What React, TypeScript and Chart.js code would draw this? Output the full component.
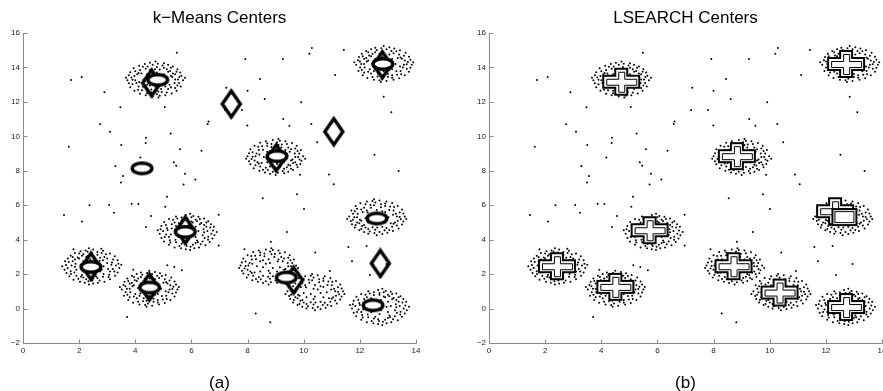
import React, { useEffect, useRef } from "react";
import { Chart, registerables } from "chart.js";
Chart.register(...registerables);

const xTicks = [0, 2, 4, 6, 8, 10, 12, 14];
const yTicks = [-2, 0, 2, 4, 6, 8, 10, 12, 14, 16];
const titles = ["k\u2212Means Centers", "LSEARCH Centers"];
const captions = ["(a)", "(b)"];

type P = [number, number];

const outliers: P[] = [
  [5.48,14.86],[1.71,13.27],[2.09,13.45],[2.90,12.56],[3.47,11.69],[5.05,11.70],[6.61,10.86],[6.58,10.71],[2.75,10.70],[3.10,10.27],
  [5.26,10.16],[4.38,9.92],[4.37,9.62],[1.63,9.40],[3.50,9.49],[5.59,9.25],[6.36,9.17],[4.18,8.77],[3.29,8.28],[5.37,8.49],
  [5.46,8.29],[3.56,7.70],[5.77,7.83],[6.14,7.50],[3.49,7.32],[5.72,7.20],[5.13,6.49],[8.54,6.41],[9.76,6.64],
  [10.29,15.13],[10.20,14.80],[11.43,15.02],[7.92,14.49],[9.26,14.49],[8.44,13.33],[11.12,13.56],[7.24,12.82],[8.00,12.64],[8.61,12.17],
  [9.91,11.98],[12.85,12.30],[13.12,11.40],[7.80,11.53],[7.20,11.53],[9.27,11.00],[9.49,10.62],[10.27,10.71],[7.99,10.63],[10.48,9.65],
  [12.52,8.93],[13.38,7.99],[10.90,7.78],[11.07,7.22],[9.87,7.77],
  [2.37,6.00],[3.07,6.01],[3.87,6.09],[4.11,6.07],[5.07,5.91],[3.24,5.56],[1.46,5.43],[4.56,5.38],[6.97,5.44],[2.10,5.06],
  [4.38,4.73],[6.97,3.66],[1.80,3.45],[2.79,3.47],[3.93,2.25],[5.14,2.51],[5.39,2.41],[5.66,2.23],[3.71,-0.49],
  [10.01,5.78],[9.40,4.45],[8.83,3.88],[7.89,3.45],[10.41,3.25],[11.59,3.58],[12.24,3.63],[11.72,2.75],[10.93,2.18],[12.36,1.95],
  [12.95,2.58],[8.29,-0.29],[8.81,-0.79],
];

const cluster1: P[] = [
  [4.87,13.40],[4.52,13.35],[4.77,13.10],[4.62,13.15],[4.72,13.55],[5.12,13.35],[5.02,13.60],[4.77,13.70],[4.42,13.60],[4.30,13.30],
  [4.42,13.00],[4.72,12.88],[5.04,13.02],[5.27,13.50],[5.17,13.75],[4.87,13.88],[4.52,13.85],[4.22,13.65],[4.14,13.15],[4.27,12.88],
  [4.57,12.72],[4.92,12.75],[5.22,13.00],[5.42,13.30],[5.34,13.65],[5.12,13.90],[4.77,14.02],[4.37,13.92],[4.07,13.60],[4.00,13.25],
  [4.12,12.90],[4.42,12.65],[4.82,12.60],[5.17,12.75],[5.40,13.10],[5.57,13.45],[5.47,13.75],[5.27,13.98],[4.97,14.12],[4.62,14.16],
  [4.27,14.04],[4.00,13.78],[3.86,13.42],[3.90,13.02],[4.10,12.70],[4.42,12.50],[4.77,12.44],[5.12,12.54],[5.42,12.80],[5.56,13.10],
  [5.70,13.25],[5.60,13.70],[5.34,14.05],[5.02,14.25],[4.52,14.27],[4.14,14.10],[3.82,13.72],[3.72,13.25],[3.82,12.85],[4.17,12.47],
  [4.62,12.32],[5.07,12.38],[5.47,12.65],
  [5.32,13.45],[5.24,13.80],[5.02,13.98],[4.70,13.90],[4.44,14.05],[4.17,13.85],[3.97,13.50],[4.04,13.10],[4.24,12.68],[4.57,12.55],
  [4.94,12.58],[5.27,12.85],[5.50,12.95],[5.64,13.52],[5.50,13.90],[5.17,14.15],[4.80,14.22],[4.34,14.20],[3.94,13.95],[3.77,13.55],
  [3.77,13.08],[3.97,12.65],[4.37,12.38],[4.87,12.35],[5.30,12.48],[5.62,12.90],[5.77,13.40],[3.67,13.40],[4.72,14.35],[4.82,12.25],
  [5.52,13.30],[3.90,13.28],[5.07,12.90],[4.52,12.95],[5.42,13.60],[4.12,13.68],
];
const cluster2: P[] = [
  [12.70,14.30],[13.05,14.25],[12.80,14.00],[12.95,14.05],[12.85,14.45],[12.45,14.25],[12.55,14.50],[12.80,14.60],[13.15,14.50],[13.27,14.20],
  [13.15,13.90],[12.85,13.78],[12.53,13.92],[12.30,14.40],[12.40,14.65],[12.70,14.78],[13.05,14.75],[13.35,14.55],[13.43,14.05],[13.30,13.78],
  [13.00,13.62],[12.65,13.65],[12.35,13.90],[12.15,14.20],[12.23,14.55],[12.45,14.80],[12.80,14.92],[13.20,14.82],[13.50,14.50],[13.57,14.15],
  [13.45,13.80],[13.15,13.55],[12.75,13.50],[12.40,13.65],[12.17,14.00],[12.00,14.35],[12.10,14.65],[12.30,14.88],[12.60,15.02],[12.95,15.06],
  [13.30,14.94],[13.57,14.68],[13.71,14.32],[13.67,13.92],[13.47,13.60],[13.15,13.40],[12.80,13.34],[12.45,13.44],[12.15,13.70],[12.01,14.00],
  [11.87,14.15],[11.97,14.60],[12.23,14.95],[12.55,15.15],[13.05,15.17],[13.43,15.00],[13.75,14.62],[13.85,14.15],[13.75,13.75],[13.40,13.37],
  [12.95,13.22],[12.50,13.28],[12.10,13.55],
  [12.25,14.35],[12.33,14.70],[12.55,14.88],[12.87,14.80],[13.13,14.95],[13.40,14.75],[13.60,14.40],[13.53,14.00],[13.33,13.58],[13.00,13.45],
  [12.63,13.48],[12.30,13.75],[12.07,13.85],[11.93,14.42],[12.07,14.80],[12.40,15.05],[12.77,15.12],[13.23,15.10],[13.63,14.85],[13.80,14.45],
  [13.80,13.98],[13.60,13.55],[13.20,13.28],[12.70,13.25],[12.27,13.38],[11.95,13.80],[11.80,14.30],[13.90,14.30],[12.85,15.25],[12.75,13.15],
  [12.05,14.20],[13.67,14.18],[12.50,13.80],[13.05,13.85],[12.15,14.50],[13.45,14.58],
];
const cluster3: P[] = [
  [9.15,8.70],[8.80,8.75],[9.05,9.00],[8.90,8.95],[9.00,8.55],[9.40,8.75],[9.30,8.50],[9.05,8.40],[8.70,8.50],[8.58,8.80],
  [8.70,9.10],[9.00,9.22],[9.32,9.08],[9.55,8.60],[9.45,8.35],[9.15,8.22],[8.80,8.25],[8.50,8.45],[8.42,8.95],[8.55,9.22],
  [8.85,9.38],[9.20,9.35],[9.50,9.10],[9.70,8.80],[9.62,8.45],[9.40,8.20],[9.05,8.08],[8.65,8.18],[8.35,8.50],[8.28,8.85],
  [8.40,9.20],[8.70,9.45],[9.10,9.50],[9.45,9.35],[9.68,9.00],[9.85,8.65],[9.75,8.35],[9.55,8.12],[9.25,7.98],[8.90,7.94],
  [8.55,8.06],[8.28,8.32],[8.14,8.68],[8.18,9.08],[8.38,9.40],[8.70,9.60],[9.05,9.66],[9.40,9.56],[9.70,9.30],[9.84,9.00],
  [9.98,8.85],[9.88,8.40],[9.62,8.05],[9.30,7.85],[8.80,7.83],[8.42,8.00],[8.10,8.38],[8.00,8.85],[8.10,9.25],[8.45,9.63],
  [8.90,9.78],[9.35,9.72],[9.75,9.45],
  [9.60,8.65],[9.52,8.30],[9.30,8.12],[8.98,8.20],[8.72,8.05],[8.45,8.25],[8.25,8.60],[8.32,9.00],[8.52,9.42],[8.85,9.55],
  [9.22,9.52],[9.55,9.25],[9.78,9.15],[9.92,8.58],[9.78,8.20],[9.45,7.95],[9.08,7.88],[8.62,7.90],[8.22,8.15],[8.05,8.55],
  [8.05,9.02],[8.25,9.45],[8.65,9.72],[9.15,9.75],[9.58,9.62],[9.90,9.20],[10.05,8.70],[7.95,8.70],[9.00,7.75],[9.10,9.85],
  [9.80,8.80],[8.18,8.82],[9.35,9.20],[8.80,9.15],[9.70,8.50],[8.40,8.42],
];
const cluster4: P[] = [
  [12.45,5.20],[12.80,5.25],[12.55,5.50],[12.70,5.45],[12.60,5.05],[12.20,5.25],[12.30,5.00],[12.55,4.90],[12.90,5.00],[13.02,5.30],
  [12.90,5.60],[12.60,5.72],[12.28,5.58],[12.05,5.10],[12.15,4.85],[12.45,4.72],[12.80,4.75],[13.10,4.95],[13.18,5.45],[13.05,5.72],
  [12.75,5.88],[12.40,5.85],[12.10,5.60],[11.90,5.30],[11.98,4.95],[12.20,4.70],[12.55,4.58],[12.95,4.68],[13.25,5.00],[13.32,5.35],
  [13.20,5.70],[12.90,5.95],[12.50,6.00],[12.15,5.85],[11.92,5.50],[11.75,5.15],[11.85,4.85],[12.05,4.62],[12.35,4.48],[12.70,4.44],
  [13.05,4.56],[13.32,4.82],[13.46,5.18],[13.42,5.58],[13.22,5.90],[12.90,6.10],[12.55,6.16],[12.20,6.06],[11.90,5.80],[11.76,5.50],
  [11.62,5.35],[11.72,4.90],[11.98,4.55],[12.30,4.35],[12.80,4.33],[13.18,4.50],[13.50,4.88],[13.60,5.35],[13.50,5.75],[13.15,6.13],
  [12.70,6.28],[12.25,6.22],[11.85,5.95],
  [12.00,5.15],[12.08,4.80],[12.30,4.62],[12.62,4.70],[12.88,4.55],[13.15,4.75],[13.35,5.10],[13.28,5.50],[13.08,5.92],[12.75,6.05],
  [12.38,6.02],[12.05,5.75],[11.82,5.65],[11.68,5.08],[11.82,4.70],[12.15,4.45],[12.52,4.38],[12.98,4.40],[13.38,4.65],[13.55,5.05],
  [13.55,5.52],[13.35,5.95],[12.95,6.22],[12.45,6.25],[12.02,6.12],[11.70,5.70],[11.55,5.20],[13.65,5.20],[12.60,4.25],[12.50,6.35],
  [11.80,5.30],[13.42,5.32],[12.25,5.70],[12.80,5.65],[11.90,5.00],[13.20,4.92],
];
const cluster5: P[] = [
  [5.95,4.60],[5.90,4.25],[5.65,4.50],[5.70,4.35],[6.10,4.45],[5.90,4.85],[6.15,4.75],[6.25,4.50],[6.15,4.15],[5.85,4.03],
  [5.55,4.15],[5.43,4.45],[5.57,4.77],[6.05,5.00],[6.30,4.90],[6.43,4.60],[6.40,4.25],[6.20,3.95],[5.70,3.87],[5.43,4.00],
  [5.27,4.30],[5.30,4.65],[5.55,4.95],[5.85,5.15],[6.20,5.07],[6.45,4.85],[6.57,4.50],[6.47,4.10],[6.15,3.80],[5.80,3.73],
  [5.45,3.85],[5.20,4.15],[5.15,4.55],[5.30,4.90],[5.65,5.13],[6.00,5.30],[6.30,5.20],[6.53,5.00],[6.67,4.70],[6.71,4.35],
  [6.59,4.00],[6.33,3.73],[5.97,3.59],[5.57,3.63],[5.25,3.83],[5.05,4.15],[4.99,4.50],[5.09,4.85],[5.35,5.15],[5.65,5.29],
  [5.80,5.43],[6.25,5.33],[6.60,5.07],[6.80,4.75],[6.82,4.25],[6.65,3.87],[6.27,3.55],[5.80,3.45],[5.40,3.55],[5.02,3.90],
  [4.87,4.35],[4.93,4.80],[5.20,5.20],
  [6.00,5.05],[6.35,4.97],[6.53,4.75],[6.45,4.43],[6.60,4.17],[6.40,3.90],[6.05,3.70],[5.65,3.77],[5.23,3.97],[5.10,4.30],
  [5.13,4.67],[5.40,5.00],[5.50,5.23],[6.07,5.37],[6.45,5.23],[6.70,4.90],[6.77,4.53],[6.75,4.07],[6.50,3.67],[6.10,3.50],
  [5.63,3.50],[5.20,3.70],[4.93,4.10],[4.90,4.60],[5.03,5.03],[5.45,5.35],[5.95,5.50],[5.95,3.40],[6.90,4.45],[4.80,4.55],
  [5.85,5.25],[5.83,3.63],[5.45,4.80],[5.50,4.25],[6.15,5.15],[6.23,3.85],
];
const cluster6: P[] = [
  [2.35,2.60],[2.40,2.25],[2.65,2.50],[2.60,2.35],[2.20,2.45],[2.40,2.85],[2.15,2.75],[2.05,2.50],[2.15,2.15],[2.45,2.03],
  [2.75,2.15],[2.87,2.45],[2.73,2.77],[2.25,3.00],[2.00,2.90],[1.87,2.60],[1.90,2.25],[2.10,1.95],[2.60,1.87],[2.87,2.00],
  [3.03,2.30],[3.00,2.65],[2.75,2.95],[2.45,3.15],[2.10,3.07],[1.85,2.85],[1.73,2.50],[1.83,2.10],[2.15,1.80],[2.50,1.73],
  [2.85,1.85],[3.10,2.15],[3.15,2.55],[3.00,2.90],[2.65,3.13],[2.30,3.30],[2.00,3.20],[1.77,3.00],[1.63,2.70],[1.59,2.35],
  [1.71,2.00],[1.97,1.73],[2.33,1.59],[2.73,1.63],[3.05,1.83],[3.25,2.15],[3.31,2.50],[3.21,2.85],[2.95,3.15],[2.65,3.29],
  [2.50,3.43],[2.05,3.33],[1.70,3.07],[1.50,2.75],[1.48,2.25],[1.65,1.87],[2.03,1.55],[2.50,1.45],[2.90,1.55],[3.28,1.90],
  [3.43,2.35],[3.37,2.80],[3.10,3.20],
  [2.30,3.05],[1.95,2.97],[1.77,2.75],[1.85,2.43],[1.70,2.17],[1.90,1.90],[2.25,1.70],[2.65,1.77],[3.07,1.97],[3.20,2.30],
  [3.17,2.67],[2.90,3.00],[2.80,3.23],[2.23,3.37],[1.85,3.23],[1.60,2.90],[1.53,2.53],[1.55,2.07],[1.80,1.67],[2.20,1.50],
  [2.67,1.50],[3.10,1.70],[3.37,2.10],[3.40,2.60],[3.27,3.03],[2.85,3.35],[2.35,3.50],[2.35,1.40],[1.40,2.45],[3.50,2.55],
  [2.45,3.25],[2.47,1.63],[2.85,2.80],[2.80,2.25],[2.15,3.15],[2.07,1.85],
];
const cluster7: P[] = [
  [4.35,1.25],[4.70,1.20],[4.45,0.95],[4.60,1.00],[4.50,1.40],[4.10,1.20],[4.20,1.45],[4.45,1.55],[4.80,1.45],[4.92,1.15],
  [4.80,0.85],[4.50,0.73],[4.18,0.87],[3.95,1.35],[4.05,1.60],[4.35,1.73],[4.70,1.70],[5.00,1.50],[5.08,1.00],[4.95,0.73],
  [4.65,0.57],[4.30,0.60],[4.00,0.85],[3.80,1.15],[3.88,1.50],[4.10,1.75],[4.45,1.87],[4.85,1.77],[5.15,1.45],[5.22,1.10],
  [5.10,0.75],[4.80,0.50],[4.40,0.45],[4.05,0.60],[3.82,0.95],[3.65,1.30],[3.75,1.60],[3.95,1.83],[4.25,1.97],[4.60,2.01],
  [4.95,1.89],[5.22,1.63],[5.36,1.27],[5.32,0.87],[5.12,0.55],[4.80,0.35],[4.45,0.29],[4.10,0.39],[3.80,0.65],[3.66,0.95],
  [3.52,1.10],[3.62,1.55],[3.88,1.90],[4.20,2.10],[4.70,2.12],[5.08,1.95],[5.40,1.57],[5.50,1.10],[5.40,0.70],[5.05,0.32],
  [4.60,0.17],[4.15,0.23],[3.75,0.50],
  [3.90,1.30],[3.98,1.65],[4.20,1.83],[4.52,1.75],[4.78,1.90],[5.05,1.70],[5.25,1.35],[5.18,0.95],[4.98,0.53],[4.65,0.40],
  [4.28,0.43],[3.95,0.70],[3.72,0.80],[3.58,1.37],[3.72,1.75],[4.05,2.00],[4.42,2.07],[4.88,2.05],[5.28,1.80],[5.45,1.40],
  [5.45,0.93],[5.25,0.50],[4.85,0.23],[4.35,0.20],[3.92,0.33],[3.60,0.75],[3.45,1.25],[5.55,1.25],[4.50,2.20],[4.40,0.10],
  [3.70,1.15],[5.32,1.13],[4.15,0.75],[4.70,0.80],[3.80,1.45],[5.10,1.53],
];
const cluster8: P[] = [
  [8.90,2.35],[8.55,2.40],[8.80,2.65],[8.65,2.60],[8.75,2.20],[9.15,2.40],[9.05,2.15],[8.80,2.05],[8.45,2.15],[8.33,2.45],
  [8.45,2.75],[8.75,2.87],[9.07,2.73],[9.30,2.25],[9.20,2.00],[8.90,1.87],[8.55,1.90],[8.25,2.10],[8.17,2.60],[8.30,2.87],
  [8.60,3.03],[8.95,3.00],[9.25,2.75],[9.45,2.45],[9.37,2.10],[9.15,1.85],[8.80,1.73],[8.40,1.83],[8.10,2.15],[8.03,2.50],
  [8.15,2.85],[8.45,3.10],[8.85,3.15],[9.20,3.00],[9.43,2.65],[9.60,2.30],[9.50,2.00],[9.30,1.77],[9.00,1.63],[8.65,1.59],
  [8.30,1.71],[8.03,1.97],[7.89,2.33],[7.93,2.73],[8.13,3.05],[8.45,3.25],[8.80,3.31],[9.15,3.21],[9.45,2.95],[9.59,2.65],
  [9.73,2.50],[9.63,2.05],[9.37,1.70],[9.05,1.50],[8.55,1.48],[8.17,1.65],[7.85,2.03],[7.75,2.50],[7.85,2.90],[8.20,3.28],
  [8.65,3.43],[9.10,3.37],[9.50,3.10],
  [9.35,2.30],[9.27,1.95],[9.05,1.77],[8.73,1.85],[8.47,1.70],[8.20,1.90],[8.00,2.25],[8.07,2.65],[8.27,3.07],[8.60,3.20],
  [8.97,3.17],[9.30,2.90],[9.53,2.80],[9.67,2.23],[9.53,1.85],[9.20,1.60],[8.83,1.53],[8.37,1.55],[7.97,1.80],[7.80,2.20],
  [7.80,2.67],[8.00,3.10],[8.40,3.37],[8.90,3.40],[9.33,3.27],[9.65,2.85],[9.80,2.35],[7.70,2.35],[8.75,1.40],[8.85,3.50],
  [9.55,2.45],[7.93,2.47],[9.10,2.85],[8.55,2.80],[9.45,2.15],[8.15,2.07],
];
const cluster9: P[] = [
  [10.25,0.85],[10.60,0.90],[10.35,1.15],[10.50,1.10],[10.40,0.70],[10.00,0.90],[10.10,0.65],[10.35,0.55],[10.70,0.65],[10.82,0.95],
  [10.70,1.25],[10.40,1.37],[10.08,1.23],[9.85,0.75],[9.95,0.50],[10.25,0.37],[10.60,0.40],[10.90,0.60],[10.98,1.10],[10.85,1.37],
  [10.55,1.53],[10.20,1.50],[9.90,1.25],[9.70,0.95],[9.78,0.60],[10.00,0.35],[10.35,0.23],[10.75,0.33],[11.05,0.65],[11.12,1.00],
  [11.00,1.35],[10.70,1.60],[10.30,1.65],[9.95,1.50],[9.72,1.15],[9.55,0.80],[9.65,0.50],[9.85,0.27],[10.15,0.13],[10.50,0.09],
  [10.85,0.21],[11.12,0.47],[11.26,0.83],[11.22,1.23],[11.02,1.55],[10.70,1.75],[10.35,1.81],[10.00,1.71],[9.70,1.45],[9.56,1.15],
  [9.42,1.00],[9.52,0.55],[9.78,0.20],[10.10,0.00],[10.60,-0.02],[10.98,0.15],[11.30,0.53],[11.40,1.00],[11.30,1.40],[10.95,1.78],
  [10.50,1.93],[10.05,1.87],[9.65,1.60],
  [9.80,0.80],[9.88,0.45],[10.10,0.27],[10.42,0.35],[10.68,0.20],[10.95,0.40],[11.15,0.75],[11.08,1.15],[10.88,1.57],[10.55,1.70],
  [10.18,1.67],[9.85,1.40],[9.62,1.30],[9.48,0.73],[9.62,0.35],[9.95,0.10],[10.32,0.03],[10.78,0.05],[11.18,0.30],[11.35,0.70],
  [11.35,1.17],[11.15,1.60],[10.75,1.87],[10.25,1.90],[9.82,1.77],[9.50,1.35],[9.35,0.85],[11.45,0.85],[10.40,-0.10],[10.30,2.00],
  [9.60,0.95],[11.22,0.97],[10.05,1.35],[10.60,1.30],[9.70,0.65],[11.00,0.57],
];
const cluster10: P[] = [
  [12.80,0.25],[12.75,-0.10],[12.50,0.15],[12.55,0.00],[12.95,0.10],[12.75,0.50],[13.00,0.40],[13.10,0.15],[13.00,-0.20],[12.70,-0.32],
  [12.40,-0.20],[12.28,0.10],[12.42,0.42],[12.90,0.65],[13.15,0.55],[13.28,0.25],[13.25,-0.10],[13.05,-0.40],[12.55,-0.48],[12.28,-0.35],
  [12.12,-0.05],[12.15,0.30],[12.40,0.60],[12.70,0.80],[13.05,0.72],[13.30,0.50],[13.42,0.15],[13.32,-0.25],[13.00,-0.55],[12.65,-0.62],
  [12.30,-0.50],[12.05,-0.20],[12.00,0.20],[12.15,0.55],[12.50,0.78],[12.85,0.95],[13.15,0.85],[13.38,0.65],[13.52,0.35],[13.56,0.00],
  [13.44,-0.35],[13.18,-0.62],[12.82,-0.76],[12.42,-0.72],[12.10,-0.52],[11.90,-0.20],[11.84,0.15],[11.94,0.50],[12.20,0.80],[12.50,0.94],
  [12.65,1.08],[13.10,0.98],[13.45,0.72],[13.65,0.40],[13.67,-0.10],[13.50,-0.48],[13.12,-0.80],[12.65,-0.90],[12.25,-0.80],[11.87,-0.45],
  [11.72,0.00],[11.78,0.45],[12.05,0.85],
  [12.85,0.70],[13.20,0.62],[13.38,0.40],[13.30,0.08],[13.45,-0.18],[13.25,-0.45],[12.90,-0.65],[12.50,-0.58],[12.08,-0.38],[11.95,-0.05],
  [11.98,0.32],[12.25,0.65],[12.35,0.88],[12.92,1.02],[13.30,0.88],[13.55,0.55],[13.62,0.18],[13.60,-0.28],[13.35,-0.68],[12.95,-0.85],
  [12.48,-0.85],[12.05,-0.65],[11.78,-0.25],[11.75,0.25],[11.88,0.68],[12.30,1.00],[12.80,1.15],[12.80,-0.95],[13.75,0.10],[11.65,0.20],
  [12.70,0.90],[12.68,-0.72],[12.30,0.45],[12.35,-0.10],[13.00,0.80],[13.08,-0.50],
];

// k-means result markers
const kmDiamonds: P[] = [
  [4.58,13.10],[12.80,14.15],[7.42,11.88],[11.07,10.27],[9.02,8.75],[5.78,4.55],[2.42,2.45],[4.50,1.25],[9.64,1.65],[12.73,2.62],
];
const kmOvals: P[] = [
  [4.80,13.28],[12.82,14.20],[4.24,8.14],[9.05,8.85],[12.61,5.23],[5.78,4.45],[2.42,2.42],[4.51,1.22],[9.38,1.80],[12.47,0.19],
];
// LSEARCH result markers
const lsCrosses: P[] = [
  [4.71,13.17],[12.72,14.20],[8.83,8.85],[12.33,5.65],[5.72,4.55],[2.42,2.46],[4.50,1.26],[8.71,2.46],[10.35,0.93],[12.72,0.09],
];
const lsBox: P[] = [[12.66,5.31]];

const allPoints: P[] = [
  ...outliers, ...cluster1, ...cluster2, ...cluster3, ...cluster4, ...cluster5,
  ...cluster6, ...cluster7, ...cluster8, ...cluster9, ...cluster10,
];

const toXY = (arr: P[]) => arr.map(([x, y]) => ({ x, y }));

function markerCanvas(w: number, h: number, draw: (c: CanvasRenderingContext2D) => void) {
  const cv = document.createElement("canvas");
  cv.width = w;
  cv.height = h;
  const c = cv.getContext("2d")!;
  draw(c);
  return cv;
}

function plusPath(c: CanvasRenderingContext2D, cx: number, cy: number, hw: number, hh: number, ax: number, ay: number) {
  c.beginPath();
  c.moveTo(cx - ax, cy - hh);
  c.lineTo(cx + ax, cy - hh);
  c.lineTo(cx + ax, cy - ay);
  c.lineTo(cx + hw, cy - ay);
  c.lineTo(cx + hw, cy + ay);
  c.lineTo(cx + ax, cy + ay);
  c.lineTo(cx + ax, cy + hh);
  c.lineTo(cx - ax, cy + hh);
  c.lineTo(cx - ax, cy + ay);
  c.lineTo(cx - hw, cy + ay);
  c.lineTo(cx - hw, cy - ay);
  c.lineTo(cx - ax, cy - ay);
  c.closePath();
}

const axesPlugin = {
  id: "matlabAxes",
  beforeDatasetsDraw(chart: any) {
    const { ctx, chartArea: a, scales } = chart;
    ctx.save();
    ctx.strokeStyle = "#8a8a8a";
    ctx.lineWidth = 1;
    const L = Math.round(a.left) + 0.5;
    const B = Math.round(a.bottom) + 0.5;
    ctx.beginPath();
    ctx.moveTo(L, Math.round(a.top));
    ctx.lineTo(L, B);
    ctx.lineTo(Math.round(a.right) + 0.5, B);
    for (const v of xTicks) {
      const px = Math.round(scales.x.getPixelForValue(v)) + 0.5;
      ctx.moveTo(px, B);
      ctx.lineTo(px, B - 4);
    }
    for (const v of yTicks) {
      const py = Math.round(scales.y.getPixelForValue(v)) + 0.5;
      ctx.moveTo(L, py);
      ctx.lineTo(L + 4, py);
    }
    ctx.stroke();
    ctx.restore();
  },
};

const fmt = (v: number) => (v < 0 ? "\u2212" + Math.abs(v) : String(v));
const tickFont = { family: "'Liberation Sans', Arial, sans-serif", size: 8 };

function makeChart(canvas: HTMLCanvasElement, datasets: any[]) {
  return new Chart(canvas, {
    type: "scatter",
    data: { datasets },
    options: {
      animation: false,
      responsive: false,
      devicePixelRatio: 1,
      events: [],
      layout: { padding: { left: 0, top: 33, right: 24, bottom: 0 } },
      plugins: { legend: { display: false }, tooltip: { enabled: false }, title: { display: false } },
      scales: {
        x: {
          type: "linear",
          min: 0,
          max: 14,
          afterBuildTicks: (s: any) => { s.ticks = xTicks.map((v) => ({ value: v })); },
          afterFit: (s: any) => { s.height = 48; },
          grid: { display: false, drawTicks: false },
          border: { display: false },
          ticks: { font: tickFont, color: "#222", padding: 3, maxRotation: 0, autoSkip: false, callback: (v: any) => fmt(Number(v)) },
        },
        y: {
          type: "linear",
          min: -2,
          max: 16,
          afterBuildTicks: (s: any) => { s.ticks = yTicks.map((v) => ({ value: v })); },
          afterFit: (s: any) => { s.width = 23; },
          grid: { display: false, drawTicks: false },
          border: { display: false },
          ticks: { font: tickFont, color: "#222", padding: 3, autoSkip: false, callback: (v: any) => fmt(Number(v)) },
        },
      },
    } as any,
    plugins: [axesPlugin],
  });
}

export default function App() {
  const leftRef = useRef<HTMLCanvasElement>(null);
  const rightRef = useRef<HTMLCanvasElement>(null);

  useEffect(() => {
    const diamond = markerCanvas(26, 32, (c) => {
      c.beginPath();
      c.moveTo(13, 3); c.lineTo(22, 16); c.lineTo(13, 29); c.lineTo(4, 16); c.closePath();
      c.lineWidth = 3.4; c.strokeStyle = "#000"; c.lineJoin = "miter"; c.stroke();
    });
    const oval = markerCanvas(28, 20, (c) => {
      c.beginPath();
      c.ellipse(14, 10, 9.8, 5.3, 0, 0, Math.PI * 2);
      c.fillStyle = "#fff"; c.fill();
      c.lineWidth = 3.5; c.strokeStyle = "#000"; c.stroke();
    });
    const cross = markerCanvas(40, 30, (c) => {
      plusPath(c, 20, 15, 18, 13, 6, 6);
      c.fillStyle = "#fff"; c.fill();
      c.lineWidth = 2; c.strokeStyle = "#000"; c.stroke();
      plusPath(c, 20.5, 15.5, 15, 10, 3, 3);
      c.lineWidth = 1; c.stroke();
    });
    const box = markerCanvas(28, 20, (c) => {
      c.fillStyle = "#fff"; c.fillRect(2, 2, 24, 16);
      c.lineWidth = 2; c.strokeStyle = "#000"; c.strokeRect(2, 2, 24, 16);
      c.lineWidth = 1; c.strokeRect(4.5, 4.5, 19, 11);
    });

    const dots = {
      pointStyle: "circle", pointRadius: 1, pointBorderWidth: 0,
      pointBackgroundColor: "#000", showLine: false,
    };
    const left = makeChart(leftRef.current!, [
      { data: toXY(kmOvals), pointStyle: oval, pointRadius: 12, showLine: false },
      { data: toXY(kmDiamonds), pointStyle: diamond, pointRadius: 14, showLine: false },
      { ...dots, data: toXY(allPoints) },
    ]);
    const right = makeChart(rightRef.current!, [
      { data: toXY(lsBox), pointStyle: box, pointRadius: 12, showLine: false },
      { data: toXY(lsCrosses), pointStyle: cross, pointRadius: 18, showLine: false },
      { ...dots, data: toXY(allPoints) },
    ]);
    return () => { left.destroy(); right.destroy(); };
  }, []);

  const textStyle: React.CSSProperties = {
    position: "absolute", width: 200, textAlign: "center",
    fontFamily: "'Liberation Sans', Arial, sans-serif", fontSize: 17, lineHeight: "17px", color: "#000",
  };

  return (
    <div style={{ position: "fixed", left: 0, top: 0, width: 883, height: 391, overflow: "hidden", background: "#fff" }}>
      <canvas ref={leftRef} width={440} height={391} style={{ position: "absolute", left: 0, top: 0, width: 440, height: 391 }} />
      <canvas ref={rightRef} width={440} height={391} style={{ position: "absolute", left: 466, top: 0, width: 440, height: 391 }} />
      <div style={{ ...textStyle, left: 219.5 - 100, top: 9 }}>{titles[0]}</div>
      <div style={{ ...textStyle, left: 685.5 - 100, top: 9 }}>{titles[1]}</div>
      <div style={{ ...textStyle, left: 219.5 - 100, top: 374 }}>{captions[0]}</div>
      <div style={{ ...textStyle, left: 685.5 - 100, top: 374 }}>{captions[1]}</div>
    </div>
  );
}
